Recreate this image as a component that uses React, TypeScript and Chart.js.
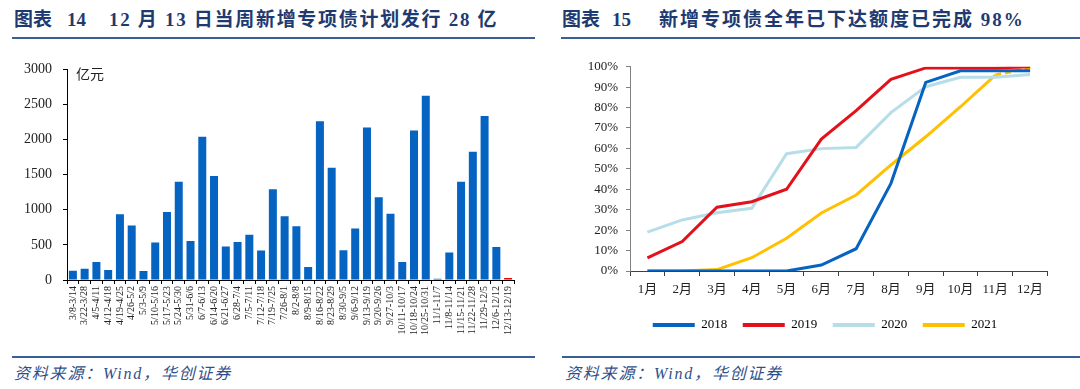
import React, { useEffect, useRef } from 'react';
import { Chart, registerables } from 'chart.js';

Chart.register(...registerables);

// ---------- data ----------
const WEEK_LABELS = [
  '3/8-3/14', '3/22-3/28', '4/5-4/11', '4/12-4/18', '4/19-4/25', '4/26-5/2', '5/3-5/9',
  '5/10-5/16', '5/17-5/23', '5/24-5/30', '5/31-6/6', '6/7-6/13', '6/14-6/20', '6/21-6/27',
  '6/28-7/4', '7/5-7/11', '7/12-7/18', '7/19-7/25', '7/26-8/1', '8/2-8/8', '8/9-8/15',
  '8/16-8/22', '8/23-8/29', '8/30-9/5', '9/6-9/12', '9/13-9/19', '9/20-9/26', '9/27-10/3',
  '10/11-10/17', '10/18-10/24', '10/25-10/31', '11/1-11/7', '11/8-11/14', '11/15-11/21',
  '11/22-11/28', '11/29-12/5', '12/6-12/12', '12/13-12/19',
];
// 亿元
const WEEKLY_ISSUANCE = [
  130, 160, 258, 143, 938, 778, 129,
  534, 970, 1398, 557, 2040, 1480, 478,
  543, 644, 419, 1292, 907, 764, 184,
  2262, 1600, 423, 732, 2172, 1178, 943,
  258, 2130, 2626, 18, 391, 1398,
  1826, 2337, 469, 28,
];
const Y_LEFT_MAX = 3000;
const Y_LEFT_STEP = 500;

const MONTH_LABELS = ['1月', '2月', '3月', '4月', '5月', '6月', '7月', '8月', '9月', '10月', '11月', '12月'];
const YEAR_LABELS = ['2018', '2019', '2020', '2021'];
// % of annual quota issued
const PROGRESS_2018 = [0, 0, 0, 0, 0, 2.9, 10.9, 42.9, 92.3, 98, 98, 98];
const PROGRESS_2019 = [6.4, 14.4, 31.2, 33.9, 40, 64.6, 78.5, 93.8, 99.4, 99.4, 99.4, 100];
const PROGRESS_2020 = [19, 25, 28.5, 30.7, 57.4, 59.9, 60.5, 77.5, 90.2, 94.8, 94.8, 96.2];
const PROGRESS_2021 = [0, 0, 0.7, 6.5, 16, 28.4, 37.2, 51.9, 65.7, 80.4, 95.9, 99.6];

// ---------- styles ----------
const BAR_BLUE = '#0563C1';
const BAR_RED = '#F00000';
const COLOR_2018 = '#0563C1';
const COLOR_2019 = '#E3111B';
const COLOR_2020 = '#B7DEE8';
const COLOR_2021 = '#FFC000';
const TITLE_COLOR = '#1F3A70';
const RULE_COLOR = '#3A5F95';
const SERIF = '"Liberation Serif", "Noto Sans CJK SC", serif';

export default function App() {
  const leftRef = useRef<HTMLCanvasElement | null>(null);
  const rightRef = useRef<HTMLCanvasElement | null>(null);

  useEffect(() => {
    document.body.style.margin = '0';
    const charts: Chart[] = [];

    if (leftRef.current) {
      charts.push(
        new Chart(leftRef.current, {
          type: 'bar',
          data: {
            labels: WEEK_LABELS,
            datasets: [
              {
                data: WEEKLY_ISSUANCE,
                backgroundColor: WEEK_LABELS.map((_, i) => (i === WEEK_LABELS.length - 1 ? BAR_RED : BAR_BLUE)),
                barPercentage: 0.68,
                categoryPercentage: 1,
              },
            ],
          },
          options: {
            responsive: false,
            animation: false,
            layout: { padding: { top: 12.7, right: 16, left: 0, bottom: 0 } },
            plugins: { legend: { display: false }, tooltip: { enabled: false } },
            scales: {
              x: {
                offset: true,
                grid: { display: true, offset: true, drawOnChartArea: false, tickLength: 4, color: '#000' },
                border: { color: '#000', width: 1 },
                ticks: {
                  autoSkip: false,
                  minRotation: 90,
                  maxRotation: 90,
                  padding: 2,
                  color: '#222',
                  font: { family: SERIF, size: 10 },
                },
                afterFit: (s: any) => {
                  s.height = 70;
                },
              },
              y: {
                min: 0,
                max: Y_LEFT_MAX,
                ticks: {
                  stepSize: Y_LEFT_STEP,
                  padding: 11,
                  color: '#222',
                  font: { family: SERIF, size: 14 },
                  callback: (v: any) => String(v),
                },
                grid: { drawOnChartArea: false, tickLength: 4, color: '#000' },
                border: { color: '#000', width: 1 },
                afterFit: (s: any) => {
                  s.width = 67;
                },
              },
            },
          },
        })
      );
    }

    if (rightRef.current) {
      const series = [PROGRESS_2018, PROGRESS_2019, PROGRESS_2020, PROGRESS_2021];
      const colors = [COLOR_2018, COLOR_2019, COLOR_2020, COLOR_2021];
      charts.push(
        new Chart(rightRef.current, {
          type: 'line',
          data: {
            labels: MONTH_LABELS,
            datasets: series.map((d, i) => ({
              label: YEAR_LABELS[i],
              data: d,
              borderColor: colors[i],
              backgroundColor: colors[i],
              borderWidth: 3,
              pointRadius: 0,
              tension: 0,
              fill: false,
              yAxisID: 'y',
              segment:
                i === 3
                  ? { borderDash: (c: any) => (c.p1DataIndex === MONTH_LABELS.length - 1 ? [6, 4] : undefined) }
                  : undefined,
            })),
          },
          options: {
            responsive: false,
            animation: false,
            layout: { padding: { top: 16.7, right: 0, left: 20, bottom: 8.5 } },
            plugins: {
              tooltip: { enabled: false },
              legend: {
                position: 'bottom',
                labels: {
                  boxWidth: 42,
                  boxHeight: 4,
                  padding: 15.5,
                  color: '#222',
                  font: { family: SERIF, size: 13 },
                  generateLabels: (chart: any) =>
                    chart.data.datasets.map((ds: any, i: number) => ({
                      text: ds.label,
                      fillStyle: ds.borderColor,
                      strokeStyle: ds.borderColor,
                      lineWidth: 0,
                      hidden: false,
                      datasetIndex: i,
                    })),
                },
              },
            },
            scales: {
              x: {
                offset: true,
                grid: { display: true, offset: true, drawOnChartArea: false, tickLength: 5, color: '#404040' },
                border: { color: '#404040', width: 1 },
                ticks: { padding: 6, color: '#222', font: { family: SERIF, size: 13 } },
                afterFit: (s: any) => {
                  s.height = 32;
                },
              },
              y: {
                position: 'left',
                min: 0,
                max: 100,
                ticks: {
                  stepSize: 10,
                  padding: 8,
                  color: '#222',
                  font: { family: SERIF, size: 13 },
                  callback: (v: any) => `${v}%`,
                },
                grid: { drawOnChartArea: false, tickLength: 4, color: '#808080' },
                border: { color: '#808080', width: 1 },
                afterFit: (s: any) => {
                  s.width = 50;
                },
              },
              // empty right margin so the legend centres like the original
              yRight: {
                position: 'right',
                display: true,
                ticks: { display: false },
                grid: { display: false },
                border: { display: false },
                afterFit: (s: any) => {
                  s.width = 22.5;
                },
              },
            },
          },
        })
      );
    }

    return () => charts.forEach((c) => c.destroy());
  }, []);

  const titleBase: React.CSSProperties = {
    position: 'absolute',
    top: 10,
    fontFamily: SERIF,
    fontWeight: 700,
    fontSize: 19,
    lineHeight: '20px',
    color: TITLE_COLOR,
    whiteSpace: 'pre',
  };
  const rule = (left: number, top: number, width: number): React.CSSProperties => ({
    position: 'absolute',
    left,
    top,
    width,
    height: 2,
    background: RULE_COLOR,
  });
  const footer: React.CSSProperties = {
    position: 'absolute',
    top: 365,
    fontFamily: SERIF,
    fontStyle: 'italic',
    fontSize: 16,
    lineHeight: '18px',
    letterSpacing: '1.8px',
    color: '#2F4F8A',
    whiteSpace: 'pre',
  };

  return (
    <div style={{ position: 'relative', width: 1080, height: 389, background: '#fff', overflow: 'hidden' }}>
      {/* left title */}
      <div style={{ ...titleBase, left: 14 }}>图表</div>
      <div style={{ ...titleBase, left: 67 }}>14</div>
      <div style={{ ...titleBase, left: 109, letterSpacing: '1.7px' }}>12 月 13 日当周新增专项债计划发行 28 亿</div>
      <div style={rule(12, 37, 523)} />
      {/* right title */}
      <div style={{ ...titleBase, left: 562 }}>图表</div>
      <div style={{ ...titleBase, left: 612 }}>15</div>
      <div style={{ ...titleBase, left: 659, letterSpacing: '2px' }}>新增专项债全年已下达额度已完成 98%</div>
      <div style={rule(561, 37, 519)} />

      <canvas
        ref={leftRef}
        width={530}
        height={300}
        style={{ position: 'absolute', left: 0, top: 50, width: 530, height: 300 }}
      />
      <div
        style={{
          position: 'absolute',
          left: 76,
          top: 65,
          fontFamily: '"Noto Sans CJK SC", sans-serif',
          fontSize: 14,
          lineHeight: '16px',
          color: '#222',
        }}
      >
        亿元
      </div>
      <canvas
        ref={rightRef}
        width={510}
        height={300}
        style={{ position: 'absolute', left: 560, top: 50, width: 510, height: 300 }}
      />

      <div style={rule(12, 356, 523)} />
      <div style={rule(562, 356, 518)} />
      <div style={{ ...footer, left: 14 }}>资料来源：Wind，华创证券</div>
      <div style={{ ...footer, left: 565 }}>资料来源：Wind，华创证券</div>
    </div>
  );
}
